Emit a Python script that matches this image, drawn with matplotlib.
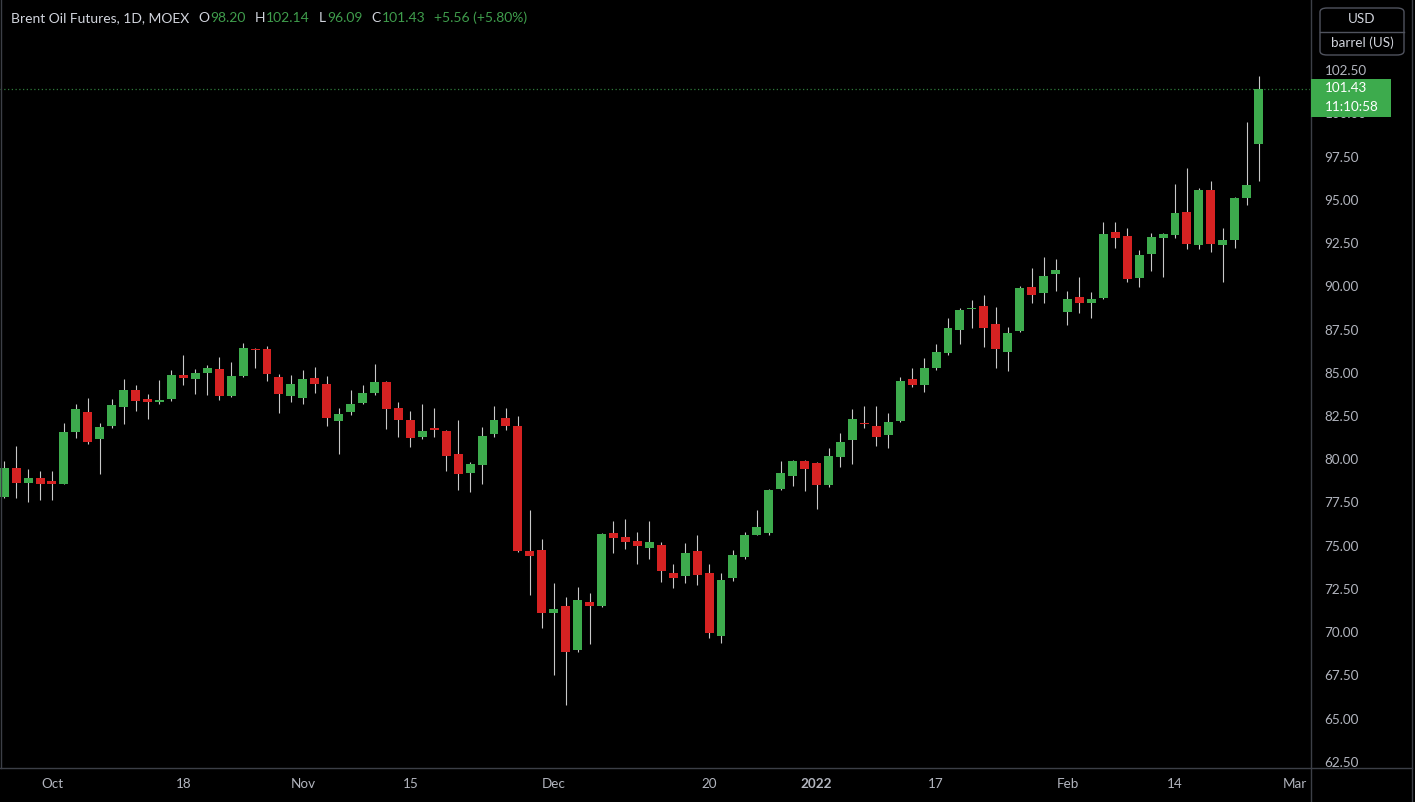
import matplotlib
matplotlib.use("Agg")
import matplotlib.pyplot as plt
import numpy as np
from matplotlib.patches import Rectangle, FancyBboxPatch
from matplotlib.lines import Line2D

plt.rcParams['font.family'] = ['Lato', 'DejaVu Sans']

# daily OHLC, Brent futures (MOEX)
opens = [77.84, 79.51, 78.65, 78.90, 78.74, 78.59, 81.55, 82.75, 81.15, 81.94,
         83.00, 84.00, 83.46, 83.29, 83.46, 84.85, 84.64, 84.98, 85.20, 83.65,
         84.81, 86.39, 86.37, 84.77, 83.66, 83.52, 84.68, 84.33, 82.19, 82.71,
         83.23, 83.81, 84.45, 82.98, 82.25, 81.30, 81.79, 81.65, 80.30, 79.22,
         79.69, 81.44, 82.40, 81.94, 74.68, 74.76, 71.09, 71.54, 68.97, 71.73,
         71.54, 75.72, 75.51, 75.26, 74.87, 75.03, 73.41, 73.25, 74.68, 73.41,
         69.80, 73.12, 74.37, 75.64, 75.72, 78.26, 79.05, 79.90, 79.78, 78.53,
         80.11, 81.09, 82.11, 81.94, 81.38, 82.19, 84.62, 84.27, 85.25, 86.16,
         87.47, 88.67, 88.86, 87.82, 86.22, 87.42, 89.98, 89.63, 90.71, 88.53,
         89.36, 89.01, 89.30, 93.16, 92.92, 90.50, 91.85, 92.77, 92.96, 94.31,
         92.38, 95.56, 92.38, 92.67, 95.12, 98.20]
highs = [79.90, 80.78, 79.44, 79.32, 79.32, 82.08, 83.19, 83.52, 82.11, 83.46,
         84.64, 84.29, 83.77, 84.58, 85.16, 86.02, 85.22, 85.45, 85.89, 85.62,
         86.70, 86.41, 86.55, 84.91, 84.85, 85.16, 85.33, 84.81, 82.94, 84.00,
         84.29, 85.50, 84.50, 83.29, 82.79, 83.17, 82.94, 81.70, 82.27, 79.86,
         81.88, 83.08, 82.94, 82.50, 77.07, 75.37, 72.87, 72.06, 72.64, 72.25,
         75.72, 76.43, 76.55, 75.80, 76.43, 75.20, 73.93, 75.14, 75.62, 73.93,
         73.41, 74.76, 75.80, 77.07, 78.30, 79.90, 79.96, 79.95, 79.82, 80.63,
         81.50, 82.88, 83.08, 83.08, 82.65, 84.73, 85.25, 85.83, 86.64, 88.18,
         88.72, 89.20, 89.49, 88.82, 87.66, 90.01, 91.08, 91.71, 91.56, 89.75,
         90.55, 89.65, 93.73, 93.73, 93.39, 92.10, 93.06, 93.10, 95.91, 96.85,
         95.66, 96.10, 93.35, 95.18, 99.51, 102.14]
lows = [77.78, 77.78, 77.55, 77.66, 77.66, 78.55, 81.21, 80.86, 79.13, 81.82,
        82.02, 82.79, 82.31, 83.19, 83.37, 84.29, 83.75, 83.71, 83.42, 83.62,
        84.77, 85.29, 84.52, 82.69, 83.29, 83.17, 83.81, 81.94, 80.32, 82.54,
        83.17, 83.69, 81.73, 81.30, 80.73, 81.15, 81.30, 79.34, 78.22, 78.13,
        78.57, 81.30, 81.69, 74.66, 72.17, 70.26, 67.53, 65.80, 68.88, 69.32,
        71.48, 74.56, 74.79, 73.93, 74.22, 72.89, 72.54, 72.83, 72.71, 69.69,
        69.36, 72.98, 74.22, 75.60, 75.64, 78.22, 78.47, 78.18, 77.14, 78.42,
        79.57, 79.70, 81.79, 80.78, 80.63, 82.17, 84.20, 83.87, 85.16, 86.05,
        86.66, 87.57, 86.51, 85.25, 85.10, 87.38, 89.01, 89.05, 89.75, 87.76,
        88.47, 88.15, 89.26, 92.19, 90.27, 89.98, 90.90, 90.55, 92.77, 92.13,
        92.13, 92.00, 90.27, 92.19, 94.70, 96.09]
closes = [79.51, 78.65, 78.93, 78.55, 78.59, 81.59, 82.88, 81.02, 81.88, 83.12,
          84.00, 83.37, 83.29, 83.42, 84.85, 84.68, 84.97, 85.27, 83.65, 84.81,
          86.43, 86.31, 84.95, 83.77, 84.33, 84.62, 84.35, 82.36, 82.63, 83.21,
          83.81, 84.45, 82.88, 82.25, 81.21, 81.65, 81.67, 80.21, 79.17, 79.72,
          81.34, 82.25, 81.94, 74.72, 74.41, 71.09, 71.36, 68.88, 71.85, 71.50,
          75.68, 75.47, 75.24, 74.99, 75.20, 73.52, 73.14, 74.56, 73.31, 69.97,
          73.02, 74.45, 75.60, 76.08, 78.24, 79.22, 79.90, 79.42, 78.53, 80.19,
          81.00, 82.34, 82.04, 81.27, 82.17, 84.50, 84.27, 85.25, 86.20, 87.57,
          88.63, 88.74, 87.61, 86.37, 87.28, 89.92, 89.50, 90.59, 90.94, 89.26,
          89.01, 89.24, 93.00, 92.77, 90.42, 91.81, 92.87, 93.00, 94.22, 92.42,
          95.56, 92.42, 92.67, 95.08, 95.87, 101.43]

# date labels at bar index
tick_idx = [4, 15, 25, 34, 46, 59, 68, 78, 89, 98, 108]
tick_labels = ["Oct", "18", "Nov", "15", "Dec", "20", "2022", "17", "Feb", "14", "Mar"]
price_ticks = [62.5, 65.0, 67.5, 70.0, 72.5, 75.0, 77.5, 80.0, 82.5, 85.0,
               87.5, 90.0, 92.5, 95.0, 97.5, 100.0, 102.5]
clock = "11:10:58"

GREEN = '#3dab4d'
RED = '#d62222'
WICK = '#c8c8c8'
TXT = '#d1d4dc'
AX_TXT = '#b2b5be'
VAL = '#3f9d4c'
LINE = '#3c3f47'

W, H = 1415, 802
fig = plt.figure(figsize=(W / 100, H / 100), dpi=100, facecolor='black')
ax = fig.add_axes([0, 34 / H, 1310 / W, 768 / H])
ax.set_facecolor('black')

x = np.arange(len(opens))
o = np.array(opens)
c = np.array(closes)
up = c >= o
colors = np.where(up, GREEN, RED)

ax.vlines(x, lows, highs, color=WICK, lw=0.8, zorder=2)
body_h = np.maximum(np.abs(c - o), 0.07)
ax.bar(x, body_h, bottom=np.minimum(o, c), width=0.75, color=colors, lw=0, zorder=3)

ax.set_xlim(-0.35, 109.3)
ax.set_ylim(62.15, 106.55)

ax.axhline(closes[-1], color='#2f7a3b', ls=(0, (1, 2)), lw=0.9, zorder=1)

for s in ax.spines.values():
    s.set_visible(False)

ax.yaxis.tick_right()
ax.set_yticks(price_ticks, [f"{p:.2f}" for p in price_ticks])
ax.tick_params(axis='y', length=0, pad=10.5, labelcolor=AX_TXT, labelsize=9.7)
ax.set_xticks(tick_idx, tick_labels)
ax.tick_params(axis='x', length=0, pad=7.5, labelcolor=AX_TXT, labelsize=9.7)
ax.get_xticklabels()[6].set_fontweight('bold')

# frame lines of the panel
fig.add_artist(Line2D([1310.5 / W] * 2, [0, 1], color=LINE, lw=1))
fig.add_artist(Line2D([0, 1412 / W], [34 / H] * 2, color=LINE, lw=1))
fig.add_artist(Line2D([1412 / W] * 2, [0, 1], color=LINE, lw=1))
fig.add_artist(Line2D([1 / W] * 2, [34 / H, 1], color=LINE, lw=1))

# last price label on the scale
fig.canvas.draw()
ylast = ax.transData.transform((0, closes[-1]))[1]
box = Rectangle((1311 / W, (ylast - 28) / H), 80 / W, 38 / H, transform=fig.transFigure,
                facecolor=GREEN, edgecolor='none', zorder=10)
fig.add_artist(box)
fig.text(1325 / W, (ylast + 0.5) / H, f"{closes[-1]:.2f}", color='white', fontsize=9.7,
         va='center', ha='left', zorder=11)
fig.text(1325 / W, (ylast - 18) / H, clock, color='white', fontsize=9.7,
         va='center', ha='left', zorder=11)

# unit box
ubox = FancyBboxPatch((1320 / W, 1 - 55 / H), 84 / W, 47 / H, transform=fig.transFigure,
                      boxstyle='round,pad=0,rounding_size=0.005', facecolor='black',
                      edgecolor='#50535e', lw=1)
fig.add_artist(ubox)
fig.add_artist(Line2D([1320 / W, 1404 / W], [1 - 31.5 / H] * 2, color='#50535e', lw=1))
fig.text(1362 / W, 1 - 19 / H, "USD", color=TXT, fontsize=9.7, ha='center', va='center')
fig.text(1362 / W, 1 - 43 / H, "barrel (US)", color=TXT, fontsize=9.7, ha='center', va='center')

# legend line at top
chg = closes[-1] - closes[-2]
pct = chg / closes[-2] * 100
pieces = [("Brent Oil Futures, 1D, MOEX", TXT, 9),
          ("O", TXT, 1), (f"{opens[-1]:.2f}", VAL, 9),
          ("H", TXT, 1), (f"{highs[-1]:.2f}", VAL, 9),
          ("L", TXT, 1), (f"{lows[-1]:.2f}", VAL, 9),
          ("C", TXT, 1), (f"{closes[-1]:.2f}", VAL, 9),
          (f"+{chg:.2f} (+{pct:.2f}%)", VAL, 0)]
renderer = fig.canvas.get_renderer()
xp = 11
for s, col, gap in pieces:
    t = fig.text(xp / W, 1 - 18 / H, s, color=col, fontsize=10, ha='left', va='center')
    xp += t.get_window_extent(renderer).width + gap

fig.savefig('out.png', dpi=100, facecolor='black')
